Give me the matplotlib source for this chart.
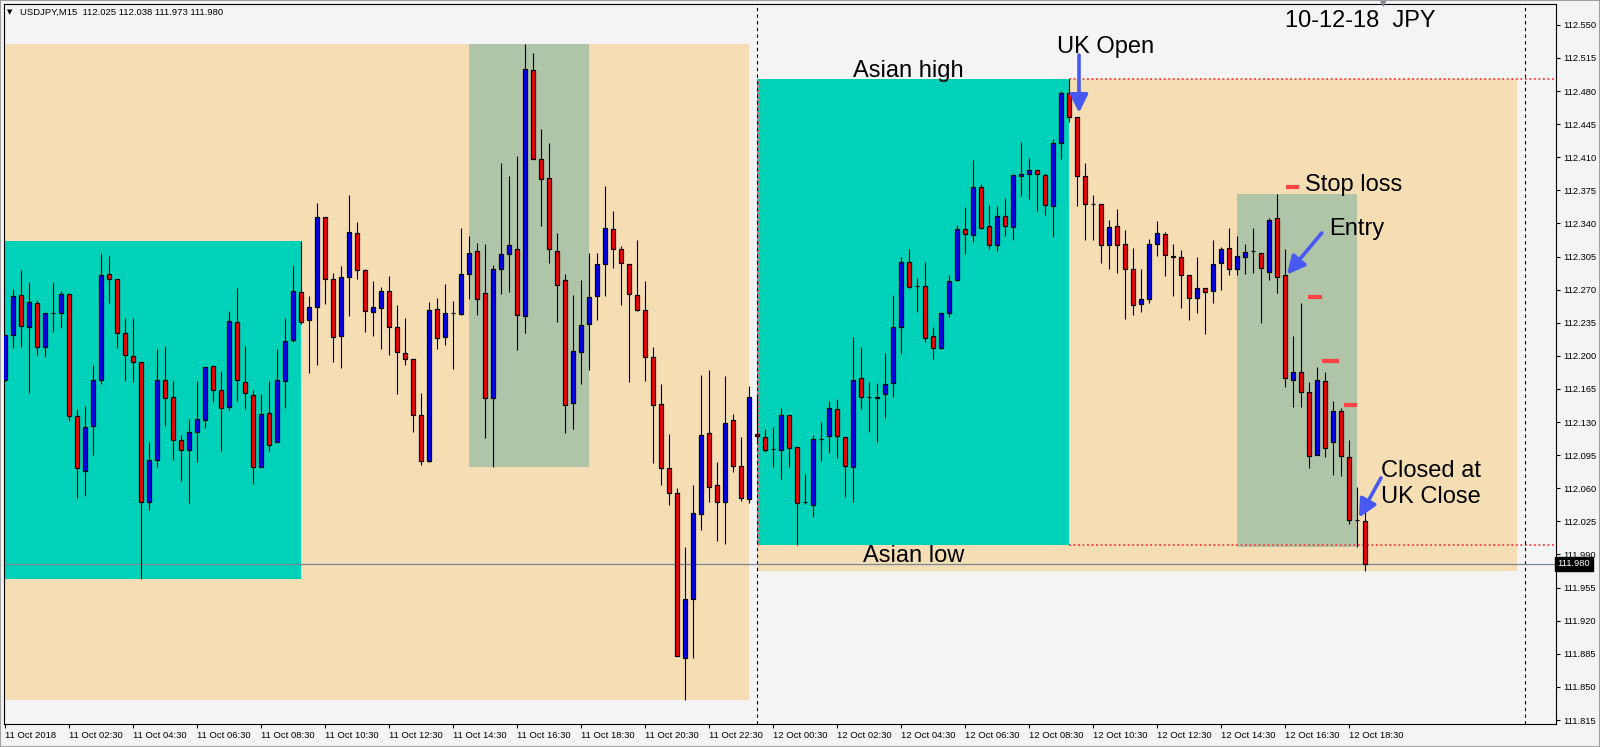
import numpy as np
import pandas as pd
import matplotlib
matplotlib.use("Agg")
import matplotlib.pyplot as plt
from matplotlib.patches import Rectangle
from matplotlib.transforms import blended_transform_factory

# USDJPY M15 bars, 11 Oct 2018 00:30 .. 12 Oct 2018 19:00
open_ = [112.175, 112.222, 112.264, 112.231, 112.256, 112.209, 112.245, 112.245, 112.265, 112.136,
         112.078, 112.126, 112.174, 112.287, 112.281, 112.224, 112.200, 112.194, 112.045, 112.090,
         112.175, 112.157, 112.111, 112.100, 112.119, 112.132, 112.189, 112.164, 112.146, 112.236,
         112.172, 112.159, 112.082, 112.140, 112.109, 112.173, 112.217, 112.268, 112.238, 112.252,
         112.347, 112.281, 112.221, 112.283, 112.330, 112.291, 112.246, 112.251, 112.269, 112.231,
         112.203, 112.197, 112.137, 112.089, 112.250, 112.220, 112.245, 112.244, 112.287, 112.311,
         112.266, 112.155, 112.292, 112.308, 112.313, 112.242, 112.502, 112.408, 112.388, 112.311,
         112.280, 112.150, 112.204, 112.234, 112.263, 112.297, 112.334, 112.313, 112.297, 112.264,
         112.248, 112.199, 112.149, 112.081, 112.055, 111.881, 111.943, 112.033, 112.118, 112.064,
         112.045, 112.132, 112.084, 112.049, 112.117, 112.114, 112.102, 112.100, 112.138, 112.104,
         112.045, 112.042, 112.112, 112.115, 112.144, 112.114, 112.082, 112.177, 112.157, 112.157,
         112.160, 112.171, 112.230, 112.299, 112.274, 112.274, 112.221, 112.208, 112.245, 112.280,
         112.334, 112.328, 112.379, 112.337, 112.317, 112.348, 112.336, 112.390, 112.392, 112.396,
         112.391, 112.358, 112.425, 112.478, 112.453, 112.390, 112.361, 112.361, 112.317, 112.337,
         112.318, 112.292, 112.255, 112.260, 112.318, 112.329, 112.306, 112.304, 112.286, 112.261,
         112.272, 112.269, 112.298, 112.314, 112.292, 112.305, 112.311, 112.309, 112.289, 112.346,
         112.285, 112.175, 112.183, 112.162, 112.095, 112.173, 112.109, 112.142, 112.093, 112.027,
         112.025]
high = [112.222, 112.271, 112.291, 112.278, 112.259, 112.245, 112.278, 112.269, 112.265, 112.144,
        112.147, 112.190, 112.309, 112.306, 112.281, 112.240, 112.240, 112.194, 112.109, 112.207,
        112.210, 112.173, 112.116, 112.133, 112.173, 112.188, 112.189, 112.184, 112.247, 112.272,
        112.210, 112.164, 112.160, 112.173, 112.207, 112.240, 112.296, 112.321, 112.263, 112.362,
        112.347, 112.288, 112.295, 112.370, 112.342, 112.292, 112.279, 112.273, 112.284, 112.254,
        112.240, 112.197, 112.161, 112.257, 112.261, 112.276, 112.258, 112.335, 112.327, 112.319,
        112.318, 112.296, 112.404, 112.390, 112.411, 112.530, 112.520, 112.440, 112.425, 112.330,
        112.287, 112.264, 112.280, 112.309, 112.309, 112.380, 112.353, 112.316, 112.297, 112.322,
        112.279, 112.209, 112.170, 112.117, 112.060, 111.998, 112.063, 112.180, 112.185, 112.088,
        112.179, 112.139, 112.114, 112.168, 112.160, 112.123, 112.125, 112.145, 112.138, 112.104,
        112.075, 112.116, 112.130, 112.152, 112.154, 112.114, 112.220, 112.209, 112.172, 112.171,
        112.203, 112.264, 112.305, 112.313, 112.282, 112.299, 112.230, 112.245, 112.285, 112.338,
        112.357, 112.407, 112.382, 112.359, 112.358, 112.367, 112.391, 112.426, 112.409, 112.397,
        112.393, 112.429, 112.480, 112.493, 112.453, 112.404, 112.370, 112.361, 112.344, 112.355,
        112.333, 112.314, 112.292, 112.324, 112.343, 112.331, 112.318, 112.312, 112.286, 112.305,
        112.272, 112.323, 112.315, 112.335, 112.327, 112.318, 112.335, 112.309, 112.346, 112.371,
        112.313, 112.221, 112.256, 112.172, 112.188, 112.183, 112.152, 112.145, 112.111, 112.061,
        112.038]
low = [112.173, 112.208, 112.209, 112.161, 112.201, 112.199, 112.225, 112.229, 112.131, 112.050,
       112.052, 112.095, 112.170, 112.256, 112.208, 112.173, 112.172, 111.964, 112.037, 112.083,
       112.126, 112.090, 112.068, 112.044, 112.088, 112.124, 112.151, 112.099, 112.143, 112.152,
       112.144, 112.065, 112.082, 112.099, 112.109, 112.145, 112.215, 112.234, 112.182, 112.190,
       112.255, 112.194, 112.187, 112.242, 112.281, 112.225, 112.221, 112.207, 112.201, 112.160,
       112.190, 112.119, 112.085, 112.088, 112.207, 112.212, 112.186, 112.243, 112.260, 112.243,
       112.113, 112.082, 112.265, 112.268, 112.206, 112.224, 112.408, 112.337, 112.298, 112.236,
       112.118, 112.123, 112.170, 112.185, 112.238, 112.263, 112.293, 112.254, 112.172, 112.247,
       112.173, 112.087, 112.064, 112.042, 111.883, 111.836, 111.881, 112.016, 112.046, 112.004,
       112.001, 112.077, 112.047, 112.044, 112.108, 112.098, 112.082, 112.070, 112.083, 112.000,
       112.043, 112.030, 112.089, 112.097, 112.092, 112.051, 112.045, 112.144, 112.119, 112.109,
       112.134, 112.156, 112.202, 112.272, 112.246, 112.215, 112.197, 112.207, 112.241, 112.279,
       112.308, 112.320, 112.334, 112.313, 112.311, 112.327, 112.322, 112.369, 112.366, 112.353,
       112.349, 112.326, 112.408, 112.447, 112.358, 112.323, 112.323, 112.298, 112.292, 112.288,
       112.239, 112.243, 112.246, 112.256, 112.306, 112.284, 112.263, 112.251, 112.238, 112.245,
       112.223, 112.256, 112.270, 112.285, 112.285, 112.287, 112.288, 112.235, 112.280, 112.266,
       112.167, 112.146, 112.146, 112.081, 112.095, 112.093, 112.074, 112.073, 112.022, 111.998,
       111.973]
close = [112.222, 112.263, 112.232, 112.257, 112.209, 112.245, 112.245, 112.265, 112.136, 112.081,
         112.125, 112.174, 112.286, 112.281, 112.224, 112.201, 112.194, 112.045, 112.090, 112.175,
         112.155, 112.111, 112.100, 112.119, 112.133, 112.188, 112.164, 112.145, 112.237, 112.175,
         112.161, 112.083, 112.139, 112.106, 112.174, 112.216, 112.269, 112.236, 112.252, 112.347,
         112.281, 112.220, 112.283, 112.331, 112.291, 112.247, 112.252, 112.269, 112.231, 112.204,
         112.197, 112.137, 112.089, 112.249, 112.219, 112.245, 112.245, 112.287, 112.309, 112.260,
         112.155, 112.292, 112.308, 112.317, 112.243, 112.503, 112.408, 112.387, 112.313, 112.275,
         112.148, 112.205, 112.233, 112.262, 112.297, 112.335, 112.313, 112.298, 112.265, 112.248,
         112.199, 112.148, 112.081, 112.055, 111.883, 111.943, 112.034, 112.116, 112.061, 112.046,
         112.129, 112.084, 112.050, 112.157, 112.115, 112.100, 112.102, 112.138, 112.103, 112.044,
         112.045, 112.112, 112.112, 112.145, 112.115, 112.084, 112.174, 112.157, 112.157, 112.155,
         112.170, 112.230, 112.299, 112.273, 112.274, 112.219, 112.208, 112.245, 112.279, 112.334,
         112.329, 112.379, 112.335, 112.317, 112.348, 112.337, 112.391, 112.392, 112.396, 112.392,
         112.359, 112.425, 112.478, 112.453, 112.390, 112.361, 112.361, 112.317, 112.336, 112.317,
         112.292, 112.254, 112.260, 112.318, 112.330, 112.307, 112.304, 112.285, 112.261, 112.272,
         112.268, 112.297, 112.313, 112.292, 112.306, 112.310, 112.311, 112.293, 112.344, 112.283,
         112.177, 112.183, 112.162, 112.094, 112.174, 112.103, 112.142, 112.094, 112.026, 112.027,
         111.980]

times = pd.date_range("2018-10-11 00:30", periods=len(open_), freq="15min")

# session boxes as (first bar, last bar)
day1 = (-2, 93)
asia1 = (-2, 37)
zone1 = (58, 73)
day2 = (94, 189)
asia2 = (94, 133)
zone2 = (154, 169)
separators = [94, 190]

bid = close[-1]
asian_high = 112.493
asian_low = 112.000
target_levels = [112.379, 112.262, 112.195, 112.148]
target_x0 = [160.1, 162.9, 164.6, 167.4]
target_x1 = [161.75, 164.6, 166.75, 169.0]

o = np.array(open_)
h = np.array(high)
l = np.array(low)
c = np.array(close)
x = np.arange(len(o))
n = len(o)

BG = "#f4f4f4"
BEIGE = "#f5deb3"
TEAL = "#00d2b9"
SAGE = "#b0c4a8"
ARROW = "#4759f2"
FONT = ["Liberation Sans", "DejaVu Sans"]

fig = plt.figure(figsize=(16, 7.47), dpi=100, facecolor=BG)
ax = fig.add_axes([4 / 1600, 23 / 747, 1552 / 1600, 720 / 747])
ax.set_facecolor(BG)
ax.set_xlim(-0.125, 193.875)
ax.set_ylim(111.8108, 112.572)


def box(span, color, z):
    a, b = span
    i0, i1 = max(a, 0), min(b, n - 1)
    hi = h[i0:i1 + 1].max()
    lo = l[i0:i1 + 1].min()
    ax.add_patch(Rectangle((a, lo), b - a, hi - lo, facecolor=color,
                           edgecolor="none", zorder=z))


box(day1, BEIGE, 1)
box(day2, BEIGE, 1)
box(asia1, TEAL, 1.2)
box(asia2, TEAL, 1.2)
box(zone1, SAGE, 1.2)
box(zone2, SAGE, 1.2)

# asian range lines
ax.hlines([asian_high, asian_low], 133, 194, colors="#ff3b3b",
          linestyles=(0, (1, 1.5)), lw=1.3, zorder=2)
ax.vlines(94.12, asian_low, asian_high, colors="#ff5a6a",
          linestyles=(0, (2, 2)), lw=0.8, zorder=2)
for s in separators:
    ax.axvline(s, color="black", ls=(0, (3, 3)), lw=0.8, zorder=2.2)
ax.axhline(bid, color="#7a8796", lw=0.9, zorder=2.5)

# candles
cols = np.where(c > o, "#0000ff", "#ff0000")
ax.vlines(x, l, h, color="black", lw=0.8, zorder=3)
ax.bar(x, np.abs(c - o), bottom=np.minimum(o, c), width=0.5, color=cols,
       edgecolor="black", linewidth=0.9, zorder=4)

# trade marks
ax.hlines(target_levels, target_x0, target_x1, colors="#ff4444", lw=3, zorder=5)

txt = dict(fontsize=17, family=FONT, color="black", va="baseline", ha="left", zorder=6)
ax.text(131.5, 112.520, "UK Open", **txt)
ax.text(106.0, 112.495, "Asian high", **txt)
ax.text(160.0, 112.548, "10-12-18  JPY", clip_on=False, **txt)
ax.text(162.5, 112.3744, "Stop loss", **txt)
ax.text(165.5, 112.328, "Entry", **txt)
ax.text(172.0, 112.072, "Closed at", **txt)
ax.text(172.0, 112.044, "UK Close", **txt)
ax.text(107.25, 111.9825, "Asian low", **txt)

arr = dict(arrowstyle="-|>,head_length=0.6,head_width=0.3", color=ARROW, lw=2.6,
           mutation_scale=18, shrinkA=0, shrinkB=0)
ax.annotate("", xy=(134.25, 112.457), xytext=(134.25, 112.518), arrowprops=arr, zorder=6)
ax.annotate("", xy=(160.25, 112.286), xytext=(164.6, 112.330), arrowprops=arr, zorder=6)
ax.annotate("", xy=(169.25, 112.029), xytext=(172.0, 112.071), arrowprops=arr, zorder=6)

# axes
for sp in ax.spines.values():
    sp.set_color("black")
    sp.set_linewidth(0.8)
ax.yaxis.tick_right()
yt = np.round(112.550 - 0.035 * np.arange(22), 3)
ax.set_yticks(yt)
ax.set_yticklabels([f"{v:.3f}" for v in yt], family=FONT)
ax.tick_params(axis="y", direction="out", length=3, width=0.8, labelsize=6.7, pad=2)

xt = np.arange(0, n, 8)
xl = ["11 Oct 2018" if i == 0 else times[i].strftime("%d %b %H:%M") for i in xt]
ax.set_xticks(xt)
ax.set_xticklabels(xl, family=FONT, ha="left")
ax.tick_params(axis="x", direction="out", length=3, width=0.8, labelsize=6.8, pad=2)

tr = blended_transform_factory(ax.transAxes, ax.transData)
ax.text(1.001, bid, f"{bid:.3f}", transform=tr, color="white", fontsize=6.7, family=FONT,
        va="center", ha="left", clip_on=False, zorder=10,
        bbox=dict(boxstyle="square,pad=0.25", fc="black", ec="black"))

# header
fig.text(7 / 1600, 1 - 12.5 / 747, "\u25bc", fontsize=5, va="center", family="DejaVu Sans")
fig.text(20 / 1600, 1 - 12.7 / 747,
         f"USDJPY,M15  {o[-1]:.3f} {h[-1]:.3f} {l[-1]:.3f} {c[-1]:.3f}",
         fontsize=6.8, va="center", family=FONT)
fig.text(1383 / 1600, 1 - 4 / 747, "\u25bc", fontsize=6, color="#7a8796", va="center",
         ha="center", family="DejaVu Sans")

fig.patches.append(Rectangle((0, 0), 1, 1, transform=fig.transFigure, fill=False,
                             edgecolor="#a0a0a0", lw=1.5))

fig.savefig("out.png", dpi=100, facecolor=BG)
